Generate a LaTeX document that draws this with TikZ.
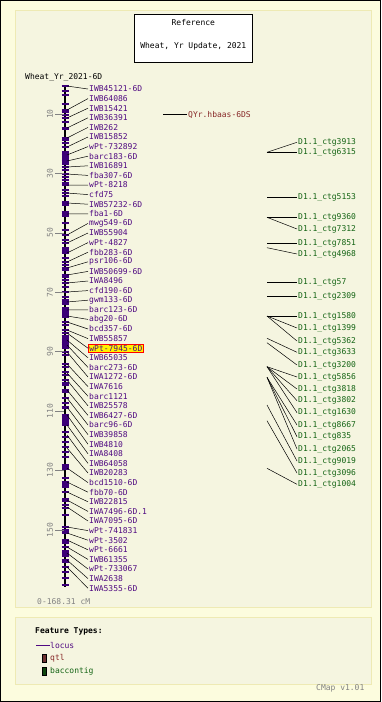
\documentclass[tikz,border=0pt]{standalone}
\usepackage{fontspec}
\setmonofont{DejaVu Sans Mono}
\definecolor{outerbg}{RGB}{252,252,222}
\definecolor{panelbg}{RGB}{245,245,224}
\definecolor{panelbd}{RGB}{238,234,180}
\definecolor{locusc}{RGB}{80,10,130}
\definecolor{chromc}{RGB}{60,0,120}
\definecolor{qtlc}{RGB}{135,40,40}
\definecolor{qtlbox}{RGB}{110,50,50}
\definecolor{bacc}{RGB}{20,100,20}
\definecolor{greyt}{RGB}{130,130,130}
\tikzset{
  txt/.style={font=\ttfamily\fontsize{8}{8}\selectfont, inner sep=1pt, anchor=west},
  lab/.style={txt, text=locusc},
  hl/.style={txt, text=locusc, fill=yellow, draw=red, line width=0.8pt},
  bac/.style={txt, text=bacc},
  conn/.style={black, line width=0.5pt},
  ticksty/.style={chromc, line width=1.2pt},
  scaletick/.style={greyt, line width=0.6pt},
  scalelab/.style={font=\ttfamily\fontsize{8}{8}\selectfont, text=greyt, rotate=90, inner sep=0pt},
  panel/.style={fill=panelbg, draw=panelbd, line width=1pt}
}
\begin{document}
\begin{tikzpicture}[x=1pt,y=-1pt]
\useasboundingbox (0,0) rectangle (381,702);
\fill[outerbg] (0,0) rectangle (381,702);
\draw[black, line width=1.2pt] (0.6,0.6) rectangle (380.4,701.4);
\draw[panel] (15.5,10) rectangle (371,607);
\draw[panel] (15.5,617) rectangle (371,684.5);

% title box
\node[draw=black, fill=white, line width=0.8pt, minimum width=118pt, minimum height=48pt, inner sep=0pt] (titlebox) at (193.3,38.2) {};
\node[txt, anchor=center, text=black] (t1) at (193.3,22.7) {Reference};
\node[txt, anchor=center, text=black] (t2) at (193.3,46) {Wheat, Yr Update, 2021};

\node[txt, text=black] (mapname) at (24,77.3) {Wheat\_Yr\_2021-6D};

% chromosome
\coordinate (ctop) at (65,86);
\coordinate (cbot) at (65,587);
\draw[black, line width=2.4pt] (ctop) -- (cbot);
\foreach \a/\b in {127/130, 151/165, 201/206, 247/252, 307/318, 335/349, 382/386, 416/426, 465/470, 481/486, 498/502, 529/533, 539/544, 550/557}
  \fill[chromc] (61.5,\a) rectangle (68.5,\b);
\foreach \y in {86,91,95,104,110,112,115,118,122,128,138,140,143,147,155,161,167,170,174,177,180,183,185,190,193,196,203,212,214,216,223,230,235,240,243,253,258,262,265,268,270,275,277,280,283,287,292,297,300,302,304,310,316,322,325,330,333,336,340,343,345,352,355,364,367,372,375,380,390,392,398,403,407,408,415,425,432,437,442,447,452,457,465,478,482,487,492,500,505,508,515,527,533,540,547,553,560,562,567,572,578,585}
  \draw[ticksty] (61.5,\y) -- (68.5,\y);

% scale
\foreach \v/\y [count=\k] in {10/114,30/173.4,50/232.8,70/292.2,90/351.6,110/411,130/470.4,150/529.8} {
  \draw[scaletick] (55,\y) -- (63.5,\y);
  \node[scalelab] (s\k) at (50,\y) {\v};
}
\node[txt, text=greyt] (range) at (36,601.7) {0-168.31 cM};

% loci
\foreach \lab/\fy/\st [count=\i] in {
IWB45121-6D/86/lab, IWB64086/110/lab, IWB15421/118/lab, IWB36391/128/lab, IWB262/138/lab,
IWB15852/147/lab, wPt-732892/155/lab, barc183-6D/161/lab, IWB16891/167/lab, fba307-6D/174/lab,
wPt-8218/185/lab, cfd75/193/lab, IWB57232-6D/203/lab, fba1-6D/214/lab, mwg549-6D/235/lab,
IWB55904/243/lab, wPt-4827/253/lab, fbb283-6D/262/lab, psr106-6D/268/lab, IWB50699-6D/275/lab,
IWA8496/283/lab, cfd190-6D/292/lab, gwm133-6D/302/lab, barc123-6D/310/lab, abg20-6D/316/lab,
bcd357-6D/322/lab, IWB55857/330/lab, wPt-7945-6D/333/hl, IWB65035/340/lab, barc273-6D/345/lab,
IWA1272-6D/352/lab, IWA7616/364/lab, barc1121/373/lab, IWB25578/380/lab, IWB6427-6D/390/lab,
barc96-6D/398/lab, IWB39858/407/lab, IWB4810/415/lab, IWA8408/425/lab, IWB64058/435/lab,
IWB20283/448/lab, bcd1510-6D/468/lab, fbb70-6D/482/lab, IWB22815/492/lab, IWA7496-6D.1/500/lab,
IWA7095-6D/507/lab, wPt-741831/527/lab, wPt-3502/533/lab, wPt-6661/540/lab, IWB61355/547/lab,
wPt-733067/553/lab, IWA2638/560/lab, IWA5355-6D/567/lab} {
  \pgfmathsetmacro{\ly}{89+9.6*(\i-1)}
  \coordinate (f\i) at (67,\fy);
  \node[\st] (m\i) at (88,\ly) {\lab};
  \draw[conn] (f\i) -- (m\i.west);
}

% QTL
\coordinate (q0) at (163,114.5);
\node[txt, text=qtlc] (q1) at (187,114.5) {QYr.hbaas-6DS};
\draw[conn] (q0) -- (q1.west);

% baccontigs
\foreach \lab/\ly/\fy [count=\i] in {
3913/142.3/152.3, 6315/152.3/152.3, 5153/197.3/197.3, 9360/217.3/217.3, 7312/229/217.3,
7851/243.3/243.3, 4968/254/247.7, 57/282.7/282.7, 2309/296.7/296.7, 1580/316/316,
1399/328/316, 5362/341/316, 3633/352.3/338.3, 3200/365/342.7, 5856/377/366.7,
3818/389/366.7, 3802/400.7/366.7, 1630/412.7/366.7, 8667/425/377.3, 835/436.7/377.3,
2065/449/377.3, 9019/461/405, 3096/473/420.7, 1004/484.3/468.3} {
  \coordinate (b\i) at (267,\fy);
  \node[bac] (c\i) at (297,\ly) {D1.1\_ctg\lab};
  \draw[conn] (b\i) -- (c\i.west);
}

% legend
\node[txt, text=black, font=\ttfamily\bfseries\fontsize{8}{8}\selectfont] (lgtitle) at (34,631.7) {Feature Types:};
\coordinate (lg0) at (36,645);
\node[txt, text=locusc, inner sep=0.5pt] (lg1) at (49.5,645) {locus};
\draw[locusc, line width=0.8pt] (lg0) -- (lg1.west);
\node[draw=black, fill=qtlbox, line width=0.4pt, minimum width=3.5pt, minimum height=7.5pt, inner sep=0pt] (lgq) at (44,658) {};
\node[txt, text=qtlc] (lg2) at (49,658) {qtl};
\node[draw=black, fill=bacc!70!black, line width=0.4pt, minimum width=3.5pt, minimum height=7.5pt, inner sep=0pt] (lgb) at (44,671) {};
\node[txt, text=bacc] (lg3) at (49,671) {baccontig};
\node[txt, text=greyt] (ver) at (315,688.3) {CMap v1.01};
\end{tikzpicture}
\end{document}
